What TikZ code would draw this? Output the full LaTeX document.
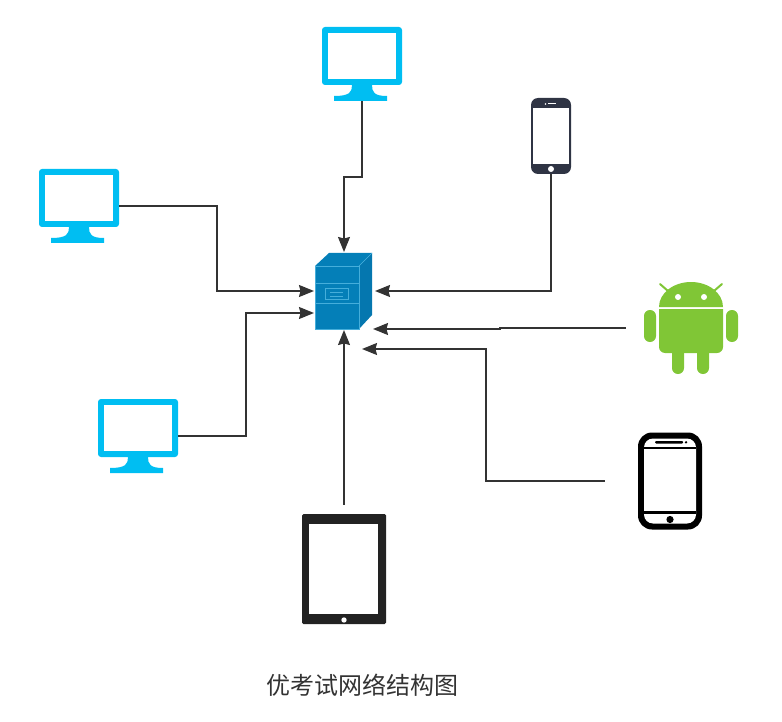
\documentclass[tikz,border=0pt]{standalone}
\usepackage{fontspec}
\newfontfamily\cjk{Noto Sans CJK SC}
\usetikzlibrary{arrows.meta}
\definecolor{screenblue}{HTML}{00BEF2}
\definecolor{servblue}{HTML}{047FB8}
\definecolor{servdark}{HTML}{0577AF}
\definecolor{servline}{HTML}{45AEDB}
\definecolor{droidgreen}{HTML}{80C636}
\definecolor{phonegray}{HTML}{2F3444}
\definecolor{padgray}{HTML}{222222}
\definecolor{linkgray}{HTML}{333333}
\tikzset{
  link/.style={draw=linkgray,line width=1.5pt,-{Stealth[length=15pt,width=12pt,inset=1.5pt]}},
  iconbox/.style={inner sep=0pt,minimum width=#1},
  monitor/.pic={
    \node[iconbox=80pt,minimum height=74pt] (-box) at (0,0) {};
    \fill[screenblue,rounded corners=3pt] (-40,-37) rectangle (40,21);
    \fill[white] (-34,-31) rectangle (34,15);
    \fill[screenblue] (-10,21) .. controls (-10,28) and (-12,32) .. (-28,32) -- (-28,37) -- (25,37)
      -- (25,32) .. controls (12,32) and (10,28) .. (10,21) -- cycle;
  },
  iphone/.pic={
    \node[iconbox=40pt,minimum height=76pt] (-box) at (0,0) {};
    \fill[phonegray,rounded corners=7pt] (-20,-38) rectangle (20,38);
    \fill[white] (-18,-28) rectangle (18,28);
    \fill[white] (0,33) circle (3);
    \fill[white] (-3,-32.5) rectangle (5,-31.5);
    \fill[white] (-5.5,-32) circle (0.8);
  },
  blackphone/.pic={
    \node[iconbox=64pt,minimum height=97pt] (-box) at (0,0) {};
    \fill[black,rounded corners=14pt] (-32,-48.5) rectangle (32,48.5);
    \fill[white,rounded corners=9pt] (-26,-42.5) rectangle (26,42.5);
    \fill[black] (-26,-34.5) rectangle (26,-32);
    \fill[black] (-26,30) rectangle (26,32.5);
    \fill[black,rounded corners=1pt] (-15,-40) rectangle (13,-37.5);
    \fill[black] (16,-38.7) circle (1.3);
    \fill[black] (0,38.5) circle (3.6);
  },
  tabletpad/.pic={
    \node[iconbox=84pt,minimum height=110pt] (-box) at (0,0) {};
    \fill[padgray,rounded corners=1.5pt] (-42,-55) rectangle (42,55);
    \fill[white] (-35,-45) rectangle (34,45);
    \fill[white] (0,51) circle (2.7);
  },
  droid/.pic={
    \node[iconbox=94pt,minimum height=92pt] (-box) at (0,0) {};
    \fill[droidgreen] (-32,-21) arc[start angle=180,end angle=360,x radius=32,y radius=25] -- cycle;
    \fill[droidgreen] (-32,-19) -- (32,-19) [rounded corners=6pt] -- (32,25) -- (-32,25) [sharp corners] -- cycle;
    \fill[droidgreen,rounded corners=5.9pt] (-47,-18) rectangle (-35,14);
    \fill[droidgreen,rounded corners=5.9pt] (35,-18) rectangle (47,14);
    \fill[droidgreen,rounded corners=5.9pt] (-19,15) rectangle (-7,46);
    \fill[droidgreen,rounded corners=5.9pt] (6,15) rectangle (18,46);
    \draw[droidgreen,line width=2pt,line cap=round] (-31,-44) -- (-23,-37) (31,-44) -- (23,-37);
    \fill[white] (-13,-31) circle (3) (13,-31) circle (3);
  }
}
\begin{document}
\begin{tikzpicture}[x=1pt,y=-1pt]
  \useasboundingbox (0,0) rectangle (782,722);
  % server in the middle
  \fill[servdark] (359,266) -- (372,253) -- (372,315) -- (359,329) -- cycle;
  \fill[servblue] (315,266) -- (329,253) -- (372,253) -- (359,266) -- cycle;
  \node[fill=servblue,draw=servline,line width=0.7pt,inner sep=0pt,minimum width=44pt,minimum height=63pt] (server) at (337,297.5) {};
  \draw[servline,line width=0.7pt] (315,283) -- (359,283) (315,303) -- (359,303);
  \draw[servline,line width=0.7pt] (325,288) rectangle (348,299);
  \draw[servline,line width=0.7pt] (330,292) -- (343,292) (330,296) -- (343,296);
  \draw[servline,line width=0.5pt] (359,266) -- (372,253);
  % the clients
  \pic (montop) at (362,64) {monitor};
  \pic (monleft) at (79,206) {monitor};
  \pic (monlow) at (138,436) {monitor};
  \pic (phonetop) at (551,136) {iphone};
  \pic (robot) at (691,328) {droid};
  \pic (phoneblack) at (670,481) {blackphone};
  \pic (pad) at (344,569) {tabletpad};
  % free ends of the connectors
  \coordinate (intop) at (344,252);
  \coordinate (inbottom) at (344,330);
  \coordinate (inleft) at (314,291);
  \coordinate (inlow) at (314,313);
  \coordinate (inphone) at (375,291);
  \coordinate (inrobot) at (373,329);
  \coordinate (inblack) at (362,349);
  % connectors
  \draw[link] (montop-box.south) -- (362,177) -- (344,177) -- (intop);
  \draw[link] (monleft-box.east) -- (217,206) |- (inleft);
  \draw[link] (monlow-box.east) -- (246,436) |- (inlow);
  \draw[link] (phonetop-box.south) |- (inphone);
  \draw[link] ([xshift=-18pt]robot-box.west) -- (500,328) -- (500,329) -- (inrobot);
  \draw[link] ([xshift=-33pt]phoneblack-box.west) -- (486,481) |- (inblack);
  \draw[link] ([yshift=9pt]pad-box.north) -- (inbottom);
  \node[text=linkgray,inner sep=0pt] (title) at (362,685) {\cjk\fontsize{24}{24}\selectfont 优考试网络结构图};
\end{tikzpicture}
\end{document}
